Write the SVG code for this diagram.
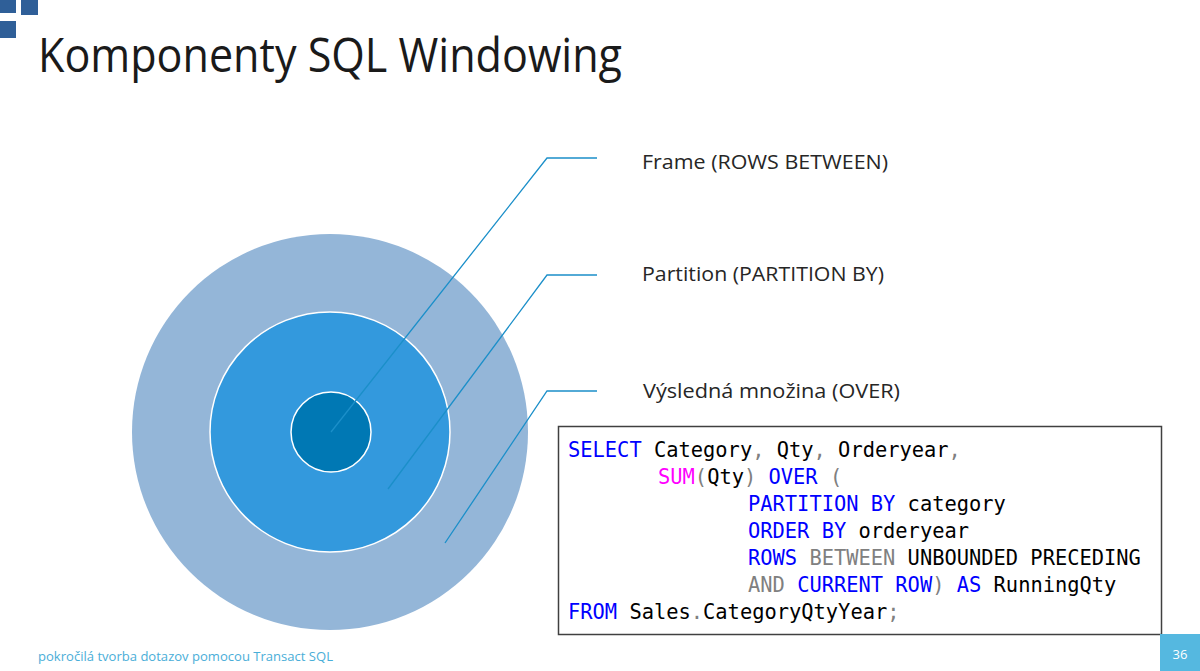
<svg xmlns="http://www.w3.org/2000/svg" width="1200" height="671" viewBox="0 0 1200 671">
<style>
.lbl{font-family:"Open Sans","Noto Sans",sans-serif;font-size:20px;fill:#262626}
.code{font-family:"DejaVu Sans Mono","Liberation Mono",monospace;font-size:20.4px;fill:#000}
.k{fill:#0000ff}.g{fill:#808080}.m{fill:#ff00ff}
.conn{fill:none;stroke:#1b8fc9;stroke-width:1.3}
</style>
<rect width="1200" height="671" fill="#fff"/>
<g id="logo" fill="#2f5f98">
<rect x="0" y="0" width="16" height="13"/>
<rect x="21" y="0" width="17" height="15"/>
<rect x="0" y="21" width="16" height="17"/>
</g>
<text id="title" x="38" y="72" font-family="Open Sans,Noto Sans,sans-serif" font-size="47" fill="#1a1a1a" textLength="584" lengthAdjust="spacingAndGlyphs">Komponenty SQL Windowing</text>
<g id="circles">
<circle id="outer" cx="330" cy="432" r="198" fill="#94b6d8"/>
<circle id="middle" cx="330" cy="432" r="120" fill="#3399dd" stroke="#fff" stroke-width="1.5"/>
<circle id="inner" cx="331" cy="432" r="40" fill="#0078b4" stroke="#fff" stroke-width="1.5"/>
</g>
<g id="connectors">
<polyline class="conn" points="331,432 547,158 597,158"/>
<polyline class="conn" points="388,489 547,275 597,275"/>
<polyline class="conn" points="445,543 547,391 597,391"/>
</g>
<g id="label-frame"><text class="lbl" x="642" y="169" textLength="246" lengthAdjust="spacingAndGlyphs">Frame (ROWS BETWEEN)</text></g>
<g id="label-partition"><text class="lbl" x="642" y="281" textLength="242" lengthAdjust="spacingAndGlyphs">Partition (PARTITION BY)</text></g>
<g id="label-over"><text class="lbl" x="643" y="398" textLength="257" lengthAdjust="spacingAndGlyphs">Výsledná množina (OVER)</text></g>
<g id="code">
<rect x="558.5" y="426.5" width="603" height="208" fill="#fff" stroke="#404040" stroke-width="1.5"/>
<text class="code" x="568" y="457"><tspan class="k">SELECT</tspan> Category<tspan class="g">,</tspan> Qty<tspan class="g">,</tspan> Orderyear<tspan class="g">,</tspan></text>
<text class="code" x="658" y="484"><tspan class="m">SUM</tspan><tspan class="g">(</tspan>Qty<tspan class="g">)</tspan> <tspan class="k">OVER</tspan> <tspan class="g">(</tspan></text>
<text class="code" x="748" y="511"><tspan class="k">PARTITION BY</tspan> category</text>
<text class="code" x="748" y="538"><tspan class="k">ORDER BY</tspan> orderyear</text>
<text class="code" x="748" y="565"><tspan class="k">ROWS</tspan> <tspan class="g">BETWEEN</tspan> UNBOUNDED PRECEDING</text>
<text class="code" x="748" y="592"><tspan class="g">AND</tspan> <tspan class="k">CURRENT ROW</tspan><tspan class="g">)</tspan> <tspan class="k">AS</tspan> RunningQty</text>
<text class="code" x="568" y="619"><tspan class="k">FROM</tspan> Sales<tspan class="g">.</tspan>CategoryQtyYear<tspan class="g">;</tspan></text>
</g>
<g id="footer">
<text x="38" y="661" font-family="Open Sans,Noto Sans,sans-serif" font-size="13.5" fill="#4aaed8" textLength="295" lengthAdjust="spacingAndGlyphs">pokročilá tvorba dotazov pomocou Transact SQL</text>
<rect x="1160" y="634" width="40" height="37" fill="#55b8e0"/>
<text x="1180" y="659" text-anchor="middle" font-family="Open Sans,Noto Sans,sans-serif" font-size="13" fill="#fff">36</text>
</g>
</svg>
